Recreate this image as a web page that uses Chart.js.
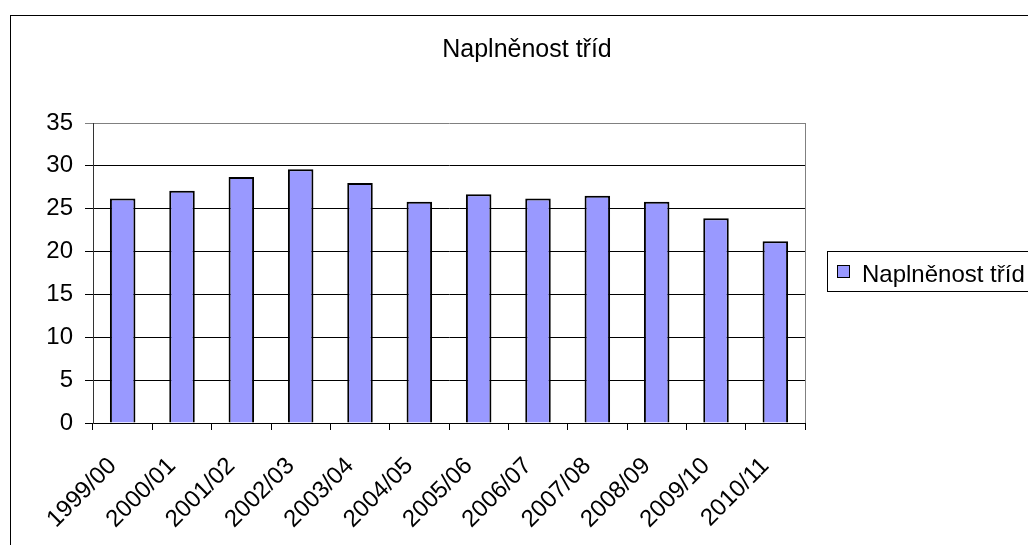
<!DOCTYPE html>
<html>
<head>
<meta charset="utf-8">
<title>Naplněnost tříd</title>
<script src="https://cdn.jsdelivr.net/npm/chart.js@4/dist/chart.umd.min.js"></script>
<style>
  html, body { margin: 0; padding: 0; background: #fff; }
  #wrap { width: 1028px; height: 545px; position: relative; }
</style>
</head>
<body>
<div id="wrap"><canvas id="chart" width="1028" height="545"></canvas></div>
<script>
// data
const years = ["1999/00", "2000/01", "2001/02", "2002/03", "2003/04", "2004/05",
  "2005/06", "2006/07", "2007/08", "2008/09", "2009/10", "2010/11"];
const fill = [26.2, 27.1, 28.7, 29.6, 28.0, 25.8, 26.7, 26.2, 26.5, 25.8, 23.9, 21.2];
const yMin = 0;
const yMax = 35;
const yStep = 5;

const chartTitle = "Naplněnost tříd";
const seriesName = "Naplněnost tříd";

const FONT = "'Liberation Sans', Arial, sans-serif";
const barColor = "#9999FF";

// frame, title, plot border and legend (Excel-like)
const decor = {
  id: "decor",
  beforeDraw(chart) {
    const c = chart.ctx;
    c.save();
    c.fillStyle = "#fff";
    c.fillRect(0, 0, chart.width, chart.height);
    c.strokeStyle = "#000";
    c.lineWidth = 1;
    c.strokeRect(10.5, 15.5, 1200, 700);
    c.restore();
  },
  afterDraw(chart) {
    const c = chart.ctx;
    const a = chart.chartArea;
    c.save();
    // right border of plot area
    c.strokeStyle = "#808080";
    c.lineWidth = 1;
    c.beginPath();
    c.moveTo(Math.round(a.right) + 0.5, a.top);
    c.lineTo(Math.round(a.right) + 0.5, a.bottom);
    c.stroke();

    // title
    c.fillStyle = "#000";
    c.font = "25px " + FONT;
    c.textAlign = "center";
    c.textBaseline = "alphabetic";
    c.fillText(chartTitle, 527, 57);

    // legend
    c.strokeStyle = "#000";
    c.strokeRect(827.5, 251.5, 300, 40);
    c.fillStyle = barColor;
    c.fillRect(837.5, 265.5, 12, 12);
    c.strokeRect(837.5, 265.5, 12, 12);
    c.fillStyle = "#000";
    c.textAlign = "left";
    c.font = "24px " + FONT;
    c.fillText(seriesName, 862, 282);
    c.restore();
  }
};

new Chart(document.getElementById("chart"), {
  type: "bar",
  data: {
    labels: years,
    datasets: [{
      label: seriesName,
      data: fill,
      backgroundColor: barColor,
      borderColor: "#000",
      borderWidth: 2,
      categoryPercentage: 1,
      barPercentage: 0.43
    }]
  },
  options: {
    responsive: false,
    animation: false,
    devicePixelRatio: 1,
    layout: { padding: { left: 0, top: 123, right: 223, bottom: 0 } },
    plugins: {
      legend: { display: false },
      title: { display: false },
      tooltip: { enabled: false }
    },
    scales: {
      x: {
        afterFit: (s) => { s.height = 122; },
        grid: {
          offset: true,
          drawOnChartArea: false,
          drawTicks: true,
          tickLength: 7,
          color: "#000"
        },
        border: { color: "#000", width: 1 },
        ticks: {
          color: "#000",
          font: { family: FONT, size: 24 },
          maxRotation: 45,
          minRotation: 45,
          padding: 22,
          labelOffset: -10,
          autoSkip: false
        }
      },
      y: {
        min: yMin,
        max: yMax,
        afterFit: (s) => { s.width = 93; },
        grid: {
          color: (ctx) => (ctx.tick && ctx.tick.value === yMax ? "#808080" : "#000"),
          tickLength: 8,
          drawTicks: true
        },
        border: { color: "#333", width: 1 },
        ticks: {
          stepSize: yStep,
          color: "#000",
          padding: 12,
          font: { family: FONT, size: 24 }
        }
      }
    }
  },
  plugins: [decor]
});
</script>
</body>
</html>
